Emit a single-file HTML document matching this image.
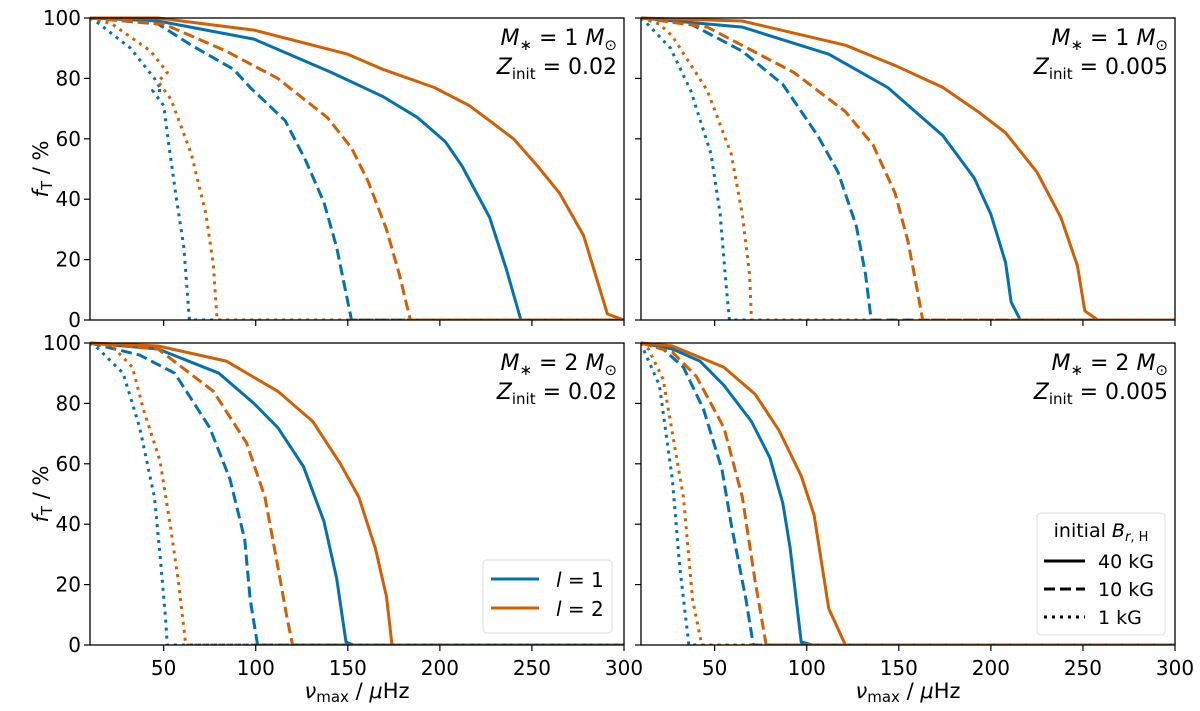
<!DOCTYPE html>
<html><head><meta charset="utf-8"><style>
body{margin:0;background:#fff}
svg{display:block;font-family:"DejaVu Sans","Liberation Sans",sans-serif}
</style></head><body>
<svg id="c" width="1200" height="711" viewBox="0 0 1200 711"></svg>
<script>
const xTicks=[50,100,150,200,250,300];
const yTicks=[0,20,40,60,80,100];
const panelMass=["1","1","2","2"];
const panelZ=["0.02","0.005","0.02","0.005"];
// each series: [nu array, f array]
const tl_l1_40=[[10,47,99,141,169,188,203,212,227,236,244,300],[100,99,93,82,74,67,59,51,34,17,0,0]];
const tl_l2_40=[[10,47,99,150,169,197,216,227,240,253,265,278,285,291,300],[100,100,96,88,83,77,71,66,60,51,42,28,14,2,0]];
const tl_l1_10=[[10,47,65,88,97,116,127,137,144,152,300],[100,98,91,83,77,66,53,39,24,0,0]];
const tl_l2_10=[[10,50,84,112,139,152,161,171,178,184,300],[100,98,89,80,67,57,46,30,15,0,0]];
const tl_l1_1=[[10,13,32,45,49,44,50,53,57,61,64,300],[100,99,90,80,76,76,71,57,40,24,0,0]];
const tl_l2_1=[[10,22,43,52,47,54,65,73,77,79,300],[100,98,89,82,79,73,55,35,18,0,0]];
const tr_l1_40=[[10,65,112,144,174,191,200,208,211,216,300],[100,97,88,77,61,47,35,19,6,0,0]];
const tr_l2_40=[[10,65,121,149,174,193,208,225,238,247,251,258,300],[100,99,91,84,77,69,62,49,34,18,3,0,0]];
const tr_l1_10=[[10,37,65,87,106,117,127,132,135,300],[100,98,89,78,61,49,31,15,0,0]];
const tr_l2_10=[[10,46,93,121,136,148,155,160,163,300],[100,97,82,69,58,42,26,10,0,0]];
const tr_l1_1=[[10,12,26,37,48,53,56,58,300],[100,99,90,76,55,35,13,0,0]];
const tr_l2_1=[[10,20,27,46,59,65,69,70,300],[100,98,94,76,55,35,15,0,0]];
const bl_l1_40=[[10,47,80,99,112,126,137,144,149,153,300],[100,98,90,80,72,59,41,22,1,0,0]];
const bl_l2_40=[[10,47,84,112,131,146,156,165,171,174,300],[100,99,94,84,74,60,49,32,16,0,0]];
const bl_l1_10=[[10,37,56,75,86,94,97,101,300],[100,96,90,72,55,35,15,0,0]];
const bl_l2_10=[[10,47,77,95,105,112,117,120,300],[100,98,84,67,49,26,9,0,0]];
const bl_l1_1=[[10,13,28,37,45,48,51,52,300],[100,99,90,72,49,30,9,0,0]];
const bl_l2_1=[[10,22,33,39,48,54,58,62,300],[100,99,92,78,61,38,21,0,0]];
const br_l1_40=[[10,27,42,55,70,80,87,91,97,103,300],[100,98,94,86,74,62,47,32,1,0,0]];
const br_l2_40=[[10,27,55,72,85,97,104,112,121,300],[100,99,92,83,71,56,43,12,0,0]];
const br_l1_10=[[10,22,33,44,54,59,67,71,300],[100,98,92,78,58,40,15,0,0]];
const br_l2_10=[[10,27,40,55,65,72,78,300],[100,97,89,72,49,21,0,0]];
const br_l1_1=[[10,12,20,27,31,36,300],[100,97,86,55,26,0,0]];
const br_l2_1=[[10,14,22,33,38,43,300],[100,98,88,49,15,0,0]];
const panelSeries=[
 [tl_l1_40,tl_l2_40,tl_l1_10,tl_l2_10,tl_l1_1,tl_l2_1],
 [tr_l1_40,tr_l2_40,tr_l1_10,tr_l2_10,tr_l1_1,tr_l2_1],
 [bl_l1_40,bl_l2_40,bl_l1_10,bl_l2_10,bl_l1_1,bl_l2_1],
 [br_l1_40,br_l2_40,br_l1_10,br_l2_10,br_l1_1,br_l2_1]];
const seriesNames=["l1-40kG","l2-40kG","l1-10kG","l2-10kG","l1-1kG","l2-1kG"];
const BLUE="#0072b2",ORANGE="#d55e00";
const colors=[BLUE,ORANGE,BLUE,ORANGE,BLUE,ORANGE];
const dashes=["", "","11,5","11,5","3,5","3,5"];
const panels=[{x0:90,y0:18},{x0:641,y0:18},{x0:90,y0:343},{x0:641,y0:343}];
const PW=534,PH=302,XMIN=10,XMAX=300;
const svg=document.getElementById('c');
const NS="http://www.w3.org/2000/svg";
function mk(tag,attrs,parent){const e=document.createElementNS(NS,tag);for(const k in attrs)e.setAttribute(k,attrs[k]);(parent||svg).appendChild(e);return e;}
panels.forEach((p,i)=>{
 const g=mk('g',{});
 
 
 const sx=v=>p.x0+(v-XMIN)/(XMAX-XMIN)*PW;
 const sy=v=>p.y0+PH-v/100*PH;
 const clipId='clip'+i;
 const cp=mk('clipPath',{id:clipId},g);
 mk('rect',{x:p.x0,y:p.y0-3,width:PW,height:PH+3},cp);
 panelSeries[i].forEach((s,j)=>{
  const d=s[0].map((v,k)=>(k?'L':'M')+sx(v).toFixed(1)+','+sy(s[1][k]).toFixed(1)).join('');
  const path=mk('path',{d:d,fill:'none',stroke:colors[j],'stroke-width':3,'stroke-dasharray':dashes[j]||'none','clip-path':'url(#'+clipId+')','stroke-linejoin':'round'},g);
  
  
 });
 const fr=mk('rect',{x:p.x0,y:p.y0,width:PW,height:PH,fill:'none',stroke:'#000','stroke-width':1.3},g);
 
 
 xTicks.forEach(t=>{
  const x=sx(t);
  mk('line',{x1:x,x2:x,y1:p.y0+PH,y2:p.y0+PH+6,stroke:'#000','stroke-width':1.2},g);
  if(i>=2){const tx=mk('text',{x:x,y:p.y0+PH+30,'font-size':20,'text-anchor':'middle'},g);tx.textContent=t;
   
   }
 });
 yTicks.forEach(t=>{
  const y=sy(t);
  mk('line',{x1:p.x0-6,x2:p.x0,y1:y,y2:y,stroke:'#000','stroke-width':1.2},g);
  if(i%2==0){const tx=mk('text',{x:p.x0-9,y:y+7,'font-size':20,'text-anchor':'end'},g);tx.textContent=t;
   
   }
 });
 const a1=mk('text',{x:p.x0+PW-7,y:p.y0+27,'font-size':22,'text-anchor':'end'},g);
 a1.innerHTML='<tspan font-style="italic">M</tspan><tspan font-size="15" dy="5">∗</tspan><tspan dy="-5"> = '+panelMass[i]+' </tspan><tspan font-style="italic">M</tspan><tspan font-size="15" dy="5">⊙</tspan>';
 
 
 const a2=mk('text',{x:p.x0+PW-7,y:p.y0+56,'font-size':22,'text-anchor':'end'},g);
 a2.innerHTML='<tspan font-style="italic">Z</tspan><tspan font-size="15" dy="5">init</tspan><tspan dy="-5"> = '+panelZ[i]+'</tspan>';
 
 
 if(i%2==0){
  const yl=mk('text',{x:0,y:0,'font-size':21,'text-anchor':'middle',transform:'translate(48,'+(p.y0+PH/2)+') rotate(-90)'},g);
  yl.innerHTML='<tspan font-style="italic">f</tspan><tspan font-size="15" dy="4">T</tspan><tspan dy="-4"> / %</tspan>';
  
  
 }
 if(i>=2){
  const xl=mk('text',{x:p.x0+PW/2,y:698,'font-size':21,'text-anchor':'middle'},g);
  xl.innerHTML='<tspan font-style="italic">ν</tspan><tspan font-size="15" dy="4">max</tspan><tspan dy="-4"> / </tspan><tspan font-style="italic">μ</tspan><tspan>Hz</tspan>';
  
  
 }
});
const lg1=mk('g',{});


mk('rect',{x:483,y:560,width:129,height:73,rx:4,fill:'#fff',stroke:'#ddd','stroke-width':1},lg1);
[["1",BLUE,583],["2",ORANGE,612]].forEach(e=>{
 mk('line',{x1:491,x2:539,y1:e[2]-4,y2:e[2]-4,stroke:e[1],'stroke-width':3},lg1);
 const t=mk('text',{x:556,y:e[2]+4,'font-size':20},lg1);
 t.innerHTML='<tspan font-style="italic">l</tspan> = '+e[0];
 
 
});
const lg2=mk('g',{});


mk('rect',{x:1037,y:513,width:128,height:122,rx:4,fill:'#fff',stroke:'#ddd','stroke-width':1},lg2);
const lt=mk('text',{x:1101,y:537,'font-size':19,'text-anchor':'middle'},lg2);
lt.innerHTML='initial <tspan font-style="italic">B</tspan><tspan font-size="13" dy="4"><tspan font-style="italic">r</tspan>, H</tspan>';


[["40 kG","",561],["10 kG","11,5",589],["1 kG","3,5",617]].forEach(e=>{
 mk('line',{x1:1044,x2:1085,y1:e[2],y2:e[2],stroke:'#000','stroke-width':3,'stroke-dasharray':e[1]||'none'},lg2);
 const t=mk('text',{x:1098,y:e[2]+7,'font-size':19},lg2);
 t.textContent=e[0];
 
 
});
</script>
</body></html>
